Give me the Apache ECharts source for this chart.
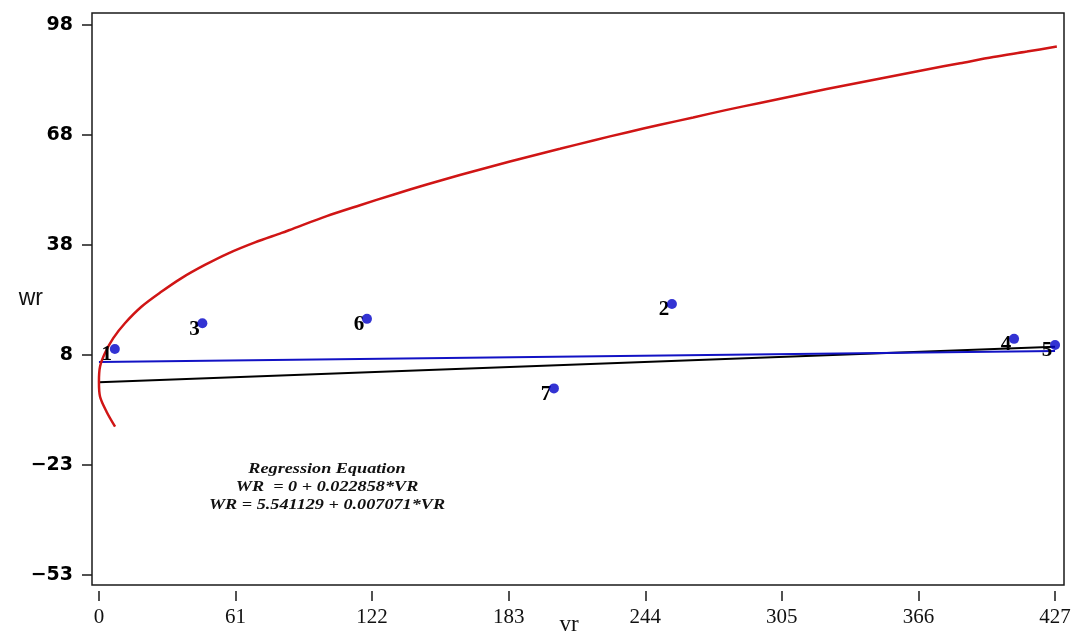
<!DOCTYPE html>
<html>
<head>
<meta charset="utf-8">
<style>
  html, body { margin: 0; padding: 0; background: #ffffff; }
  #chart { width: 1077px; height: 633px; }
</style>
<script src="https://cdn.jsdelivr.net/npm/echarts@6/dist/echarts.min.js"></script>
</head>
<body>
<div id="chart"></div>
<script>
// Observed points (VR, WR) with their case numbers
const pointIds = ['1', '2', '3', '4', '5', '6', '7'];
const pointVR = [7.1, 255.9, 46.2, 408.7, 427, 119.7, 203.2];
const pointWR = [9.1, 21.5, 16.2, 11.9, 10.2, 17.4, -1.7];

// Quadratic fit curve, traced from its lower end through the vertex to the upper end
const curveVR = [7.2, 3.4, 0.5, 0, 0.5, 2.7, 6.4, 11.6, 19.1, 28.0, 36.9, 47.3, 57.8, 69.7, 81.6, 86.8,
  101.7, 116.6, 131.4, 146.4, 161.2, 176.1, 191.0, 205.9, 220.8, 235.7, 250.6, 265.4, 280.4, 295.2,
  310.1, 325.0, 339.9, 354.8, 369.7, 384.6, 399.4, 414.4, 427.8];
const curveWR = [-12.2, -8.1, -4.0, 0.2, 4.3, 8.0, 12.1, 16.2, 20.8, 24.9, 28.6, 32.2, 35.4, 38.4, 41.0, 42.2,
  45.6, 48.6, 51.5, 54.3, 56.9, 59.4, 61.8, 64.1, 66.4, 68.6, 70.7, 72.7, 74.8, 76.7,
  78.6, 80.5, 82.3, 84.1, 85.9, 87.6, 89.3, 90.8, 92.2];

// Straight-line fits, endpoints at VR = 0 and VR = 427
const fitVR = [0, 427];
const fitThroughOriginWR = [0, 9.76];      // WR = 0 + 0.022858*VR
const fitInterceptWR = [5.541, 8.560];     // WR = 5.541129 + 0.007071*VR

// Axis ticks
const xTickValues = [0, 61, 122, 183, 244, 305, 366, 427];
const yTickValues = [-52.9, -22.7, 7.5, 37.7, 67.9, 98.1];
const yTickLabels = ['\u221253', '\u221223', '8', '38', '68', '98'];

const equationLines = [
  'Regression Equation',
  'WR  = 0 + 0.022858*VR',
  'WR = 5.541129 + 0.007071*VR'
];

const zip = (a, b) => a.map((v, i) => [v, b[i]]);

const chart = echarts.init(document.getElementById('chart'), null, { renderer: 'canvas' });

chart.setOption({
  animation: false,
  backgroundColor: '#ffffff',
  grid: {
    left: 92, right: 13, top: 13, bottom: 48,
    show: true, borderColor: '#1a1a1a', borderWidth: 1.5,
    backgroundColor: 'transparent',
    outerBoundsMode: 'none'
  },
  xAxis: {
    type: 'value',
    min: -3.1, max: 431,
    offset: 6,
    axisLine: { show: false, onZero: false },
    splitLine: { show: false },
    axisTick: { show: true, customValues: xTickValues, length: 10, lineStyle: { color: '#1a1a1a', width: 1.5 } },
    axisLabel: {
      customValues: xTickValues,
      fontFamily: 'Liberation Serif', fontSize: 21, color: '#111', margin: 16
    },
    name: 'vr',
    nameLocation: 'middle',
    nameGap: 22,
    nameMoveOverlap: false,
    nameTextStyle: { fontFamily: 'Liberation Serif', fontSize: 23, color: '#111', padding: [0, 18, 0, 0] }
  },
  yAxis: {
    type: 'value',
    min: -55.7, max: 101.4,
    axisLine: { show: false, onZero: false },
    splitLine: { show: false },
    axisTick: { show: true, customValues: yTickValues, length: 10, lineStyle: { color: '#1a1a1a', width: 1.5 } },
    axisLabel: {
      customValues: yTickValues,
      formatter: (v) => {
        let best = 0;
        yTickValues.forEach((t, i) => { if (Math.abs(t - v) < Math.abs(yTickValues[best] - v)) best = i; });
        return yTickLabels[best];
      },
      fontFamily: 'DejaVu Sans', fontWeight: 'bold', fontSize: 19, color: '#000', margin: 19
    },
    name: 'wr',
    nameLocation: 'middle',
    nameRotate: 0,
    nameGap: 49,
    nameMoveOverlap: false,
    nameTextStyle: { fontFamily: 'Liberation Sans', fontSize: 23, color: '#111', align: 'right', verticalAlign: 'middle' }
  },
  series: [
    {
      name: 'WR = 0 + 0.022858*VR',
      type: 'line',
      data: zip(fitVR, fitThroughOriginWR),
      showSymbol: false,
      lineStyle: { color: '#000000', width: 2 },
      z: 2
    },
    {
      name: 'WR = 5.541129 + 0.007071*VR',
      type: 'line',
      data: zip(fitVR, fitInterceptWR),
      showSymbol: false,
      lineStyle: { color: '#1212c4', width: 2 },
      z: 2
    },
    {
      name: 'Quadratic fit',
      type: 'line',
      data: zip(curveVR, curveWR),
      showSymbol: false,
      smooth: 0.3,
      lineStyle: { color: '#d01515', width: 2.5 },
      z: 3
    },
    {
      name: 'Case labels',
      type: 'scatter',
      data: pointVR.map((v, i) => ({ value: [v, pointWR[i]], name: pointIds[i] })),
      symbolSize: 1,
      itemStyle: { color: '#ffffff' },
      label: {
        show: true,
        position: 'inside',
        offset: [-8, 6],
        formatter: (p) => p.name,
        fontFamily: 'Liberation Serif', fontWeight: 'bold', fontSize: 21,
        color: '#000000', textBorderWidth: 0, opacity: 1
      },
      z: 4
    },
    {
      name: 'Observations',
      type: 'scatter',
      data: zip(pointVR, pointWR),
      symbol: 'circle',
      symbolSize: 10,
      itemStyle: { color: '#0000c8' },
      z: 5
    }
  ],
  graphic: [
    {
      type: 'group',
      x: 327, y: 0,
      scaleX: 1.3,
      children: equationLines.map((t, i) => ({
        type: 'text',
        x: 0, y: 469 + i * 18,
        style: {
          text: t,
          font: 'italic bold 14px "Liberation Serif"',
          fill: '#111',
          textAlign: 'center',
          textVerticalAlign: 'middle'
        }
      }))
    }
  ]
});
</script>
</body>
</html>
